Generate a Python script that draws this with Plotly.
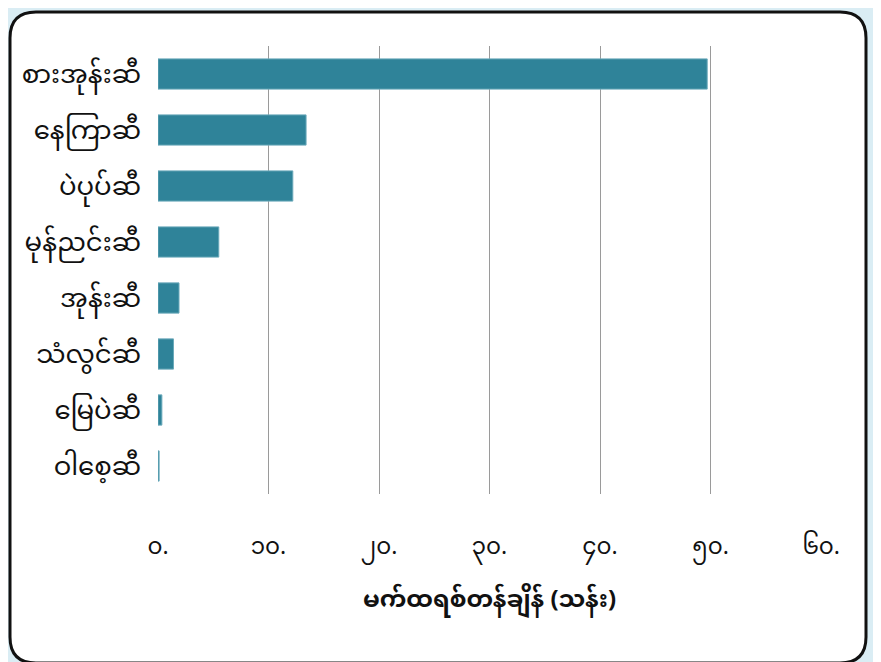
import plotly.graph_objects as go

categories = ["စားအုန်းဆီ", "နေကြာဆီ", "ပဲပုပ်ဆီ", "မုန်ညင်းဆီ", "အုန်းဆီ", "သံလွင်ဆီ", "မြေပဲဆီ", "ဝါစေ့ဆီ"]
values = [49.7, 13.4, 12.2, 5.5, 1.9, 1.4, 0.35, 0.1]
tick_vals = [0, 10, 20, 30, 40, 50, 60]
tick_text = ["၀.", "၁၀.", "၂၀.", "၃၀.", "၄၀.", "၅၀.", "၆၀."]
x_title = "<b>မက်ထရစ်တန်ချိန် (သန်း)</b>"

W, H = 881, 662
OFF = 8  # page body margin
L, R, T, B = 158 - OFF, 60 + OFF, 46 - OFF, 168 + OFF
pw, ph = W - L - R, H - T - B

def px(x):
    return (x - OFF - L) / pw

def py(y):
    return (H - B - (y - OFF)) / ph

# rounded white card (screen pixel coords)
x0, x1, y0, y1, r = 10, 866, 12, 663, 26
rx, ry = r / pw, r / ph
path = (
    f"M {px(x0)},{py(y0) - ry} "
    f"L {px(x0)},{py(y1) + ry} Q {px(x0)},{py(y1)} {px(x0) + rx},{py(y1)} "
    f"L {px(x1) - rx},{py(y1)} Q {px(x1)},{py(y1)} {px(x1)},{py(y1) + ry} "
    f"L {px(x1)},{py(y0) - ry} Q {px(x1)},{py(y0)} {px(x1) - rx},{py(y0)} "
    f"L {px(x0) + rx},{py(y0)} Q {px(x0)},{py(y0)} {px(x0)},{py(y0) - ry} Z"
)

font_fam = "Noto Sans Myanmar, Padauk, Myanmar Text, sans-serif"

fig = go.Figure(go.Bar(
    x=values, y=categories, orientation="h",
    marker=dict(color="#2f8399", line=dict(color="#6aa9ba", width=1)),
))
fig.update_layout(
    width=W, height=H,
    margin=dict(l=L, r=R, t=T, b=B),
    paper_bgcolor="#daedf4", plot_bgcolor="rgba(0,0,0,0)",
    bargap=0.46,
    showlegend=False,
    font=dict(family=font_fam, color="#111111"),
    shapes=[dict(type="path", path=path, xref="paper", yref="paper",
                 fillcolor="white", line=dict(color="#111111", width=3), layer="below")],
)
fig.update_xaxes(
    range=[0, 60], tickvals=tick_vals, ticktext=tick_text,
    showgrid=True, gridcolor="#9a9a9a", gridwidth=1, zeroline=False,
    showline=False, ticks="", tickfont=dict(size=23), ticklabelstandoff=36,
    title=dict(text=x_title, font=dict(size=24), standoff=17),
)
fig.update_yaxes(
    autorange="reversed", showgrid=False, zeroline=False, showline=False,
    ticks="", tickfont=dict(size=26), ticklabelstandoff=16,
)
fig.write_html("out.html")
